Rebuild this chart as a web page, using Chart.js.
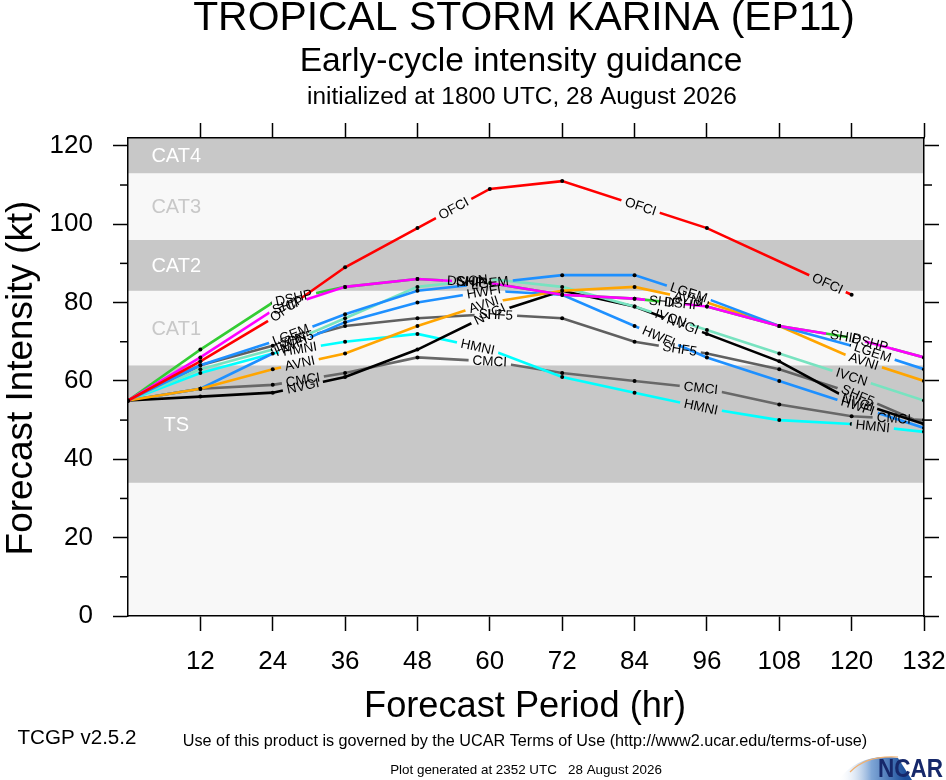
<!DOCTYPE html>
<html><head><meta charset="utf-8">
<script src="https://cdn.jsdelivr.net/npm/chart.js@4.4.1/dist/chart.umd.min.js"></script>
<style>html,body{margin:0;padding:0;background:#fff;} #wrap{width:946px;height:780px;position:relative;}</style>
</head><body><div id="wrap"><canvas id="c"></canvas></div>
<script>
// ---------- data ----------
const hours = [0,12,24,36,48,60,72,84,96,108,120,132];
const OFCI = [55,65,76,89,99,109,111,null,99,null,82,null];
const SHIP = [55,66,78,84,86,85,82,81,79,74,71,66];
const DSHP = [55,68,80,84,86,85,82,81,79,74,71,66];
const LGEM = [55,64,70,77,83,85,87,87,81,74,69,63];
const AVNI = [55,58,63,67,74,80,83,84,80,74,66,60];
const IVCN = [55,63,68,76,84,86,84,79,73,67,61,55];
const NVGI = [55,56,57,61,68,77,83,79,72,65,55,49];
const HWFI = [55,58,67,75,80,83,82,74,66,60,54,48];
const SHF5 = [55,64,69,74,76,77,76,70,67,63,57,49];
const HMNI = [55,62,67,70,72,68,61,57,53,50,49,47];
const CMCI = [55,58,59,62,66,65,62,60,58,54,51,50];
const seriesNames = ['OFCI','SHIP','DSHP','LGEM','AVNI','IVCN','NVGI','HWFI','SHF5','HMNI','CMCI'];
const seriesValues = {OFCI,SHIP,DSHP,LGEM,AVNI,IVCN,NVGI,HWFI,SHF5,HMNI,CMCI};
const bandLimits = [0,34,64,83,96,113,122];
const bandNames = ['', 'TS', 'CAT1', 'CAT2', 'CAT3', 'CAT4'];
const xTicks = [0,12,24,36,48,60,72,84,96,108,120,132];
const yTicks = [0,20,40,60,80,100,120];

// ---------- styles ----------
const seriesColors = {OFCI:'#ff0000',SHIP:'#ff00ff',DSHP:'#33cc33',LGEM:'#1e90ff',AVNI:'#ffa500',
  IVCN:'#78e3c0',NVGI:'#000000',HWFI:'#1e90ff',SHF5:'#606060',HMNI:'#00ffff',CMCI:'#686868'};
const labelHours = {OFCI:[26,54,85,116],SHIP:[26.5,57,89,119],DSHP:[27.5,56,92,123],LGEM:[27,60,93,123.5],
  AVNI:[28.5,59,93,122],IVCN:[27,57,90,120],NVGI:[29,60,92,121],HWFI:[27,59,88,121],SHF5:[28,61,91.5,121],
  HMNI:[28.5,58,95,123.5],CMCI:[29,60,95,127]};
const FAM = '"Liberation Sans", Arial, Helvetica, sans-serif';
const LABEL_FONT = '13.5px ' + FAM;
const GRAY = '#c8c8c8', LIGHT = '#f8f8f8';

function labelGeom(chart, idx, h){
  const pts = chart.data.datasets[idx].data;
  const xs = chart.scales.x, ys = chart.scales.y;
  for (let i=0;i<pts.length-1;i++){
    const a=pts[i], b=pts[i+1];
    if (h>=a.x && h<=b.x){
      const t=(h-a.x)/(b.x-a.x);
      const v=a.y+(b.y-a.y)*t;
      const ax=xs.getPixelForValue(a.x), ay=ys.getPixelForValue(a.y);
      const bx=xs.getPixelForValue(b.x), by=ys.getPixelForValue(b.y);
      return {px:xs.getPixelForValue(h), py:ys.getPixelForValue(v), ang:Math.atan2(by-ay,bx-ax)};
    }
  }
  return null;
}

function fitText(ctx, text, cx, cy, width, weight, rot){
  ctx.save();
  ctx.font = `${weight} 40px ${FAM}`;
  const w = ctx.measureText(text).width;
  const size = 40*width/w;
  ctx.font = `${weight} ${size}px ${FAM}`;
  ctx.textAlign='center'; ctx.textBaseline='middle'; ctx.fillStyle='#000';
  ctx.translate(cx,cy); if (rot) ctx.rotate(rot);
  ctx.fillText(text,0,0);
  ctx.restore();
}

const deco = {
  id:'deco',
  beforeDraw(chart){
    const ctx=chart.ctx, a=chart.chartArea, ys=chart.scales.y, xs=chart.scales.x;
    ctx.save();
    ctx.fillStyle='#fff'; ctx.fillRect(0,0,chart.width,chart.height);
    for (let i=0;i<bandLimits.length-1;i++){
      const y0=ys.getPixelForValue(bandLimits[i]), y1=ys.getPixelForValue(bandLimits[i+1]);
      ctx.fillStyle = (i%2===1)?GRAY:LIGHT;
      ctx.fillRect(a.left,y1,a.right-a.left,y0-y1);
      if (bandNames[i]){
        ctx.fillStyle = (i%2===1)?'#ffffff':GRAY;
        ctx.font = '20px '+FAM; ctx.textAlign='center'; ctx.textBaseline='middle';
        ctx.fillText(bandNames[i], xs.getPixelForValue(8), (y0+y1)/2+1);
      }
    }
    ctx.restore();
  },
  beforeDatasetDraw(chart,args){
    const ctx=chart.ctx; const ds=chart.data.datasets[args.index];
    ctx.save(); ctx.beginPath(); ctx.rect(0,0,chart.width,chart.height);
    ctx.font=LABEL_FONT;
    (labelHours[ds.label]||[]).forEach(h=>{
      const g=labelGeom(chart,args.index,h); if(!g) return;
      const w=ctx.measureText(ds.label).width/2+4, hh=6;
      const c=Math.cos(g.ang), s=Math.sin(g.ang);
      const pts=[[-w,-hh],[-w,hh],[w,hh],[w,-hh]].map(([u,v])=>[g.px+u*c-v*s, g.py+u*s+v*c]);
      ctx.moveTo(pts[0][0],pts[0][1]);
      for (let k=1;k<4;k++) ctx.lineTo(pts[k][0],pts[k][1]);
      ctx.closePath();
    });
    ctx.clip('evenodd');
  },
  afterDatasetDraw(chart){ chart.ctx.restore(); },
  afterDatasetsDraw(chart){
    const ctx=chart.ctx;
    ctx.save(); ctx.font=LABEL_FONT; ctx.fillStyle='#000'; ctx.textAlign='center'; ctx.textBaseline='middle';
    for (let i=chart.data.datasets.length-1;i>=0;i--){
      const ds=chart.data.datasets[i];
      (labelHours[ds.label]||[]).forEach(h=>{
        const g=labelGeom(chart,i,h); if(!g) return;
        ctx.save(); ctx.translate(g.px,g.py); ctx.rotate(g.ang); ctx.fillText(ds.label,0,0.5); ctx.restore();
      });
    }
    ctx.restore();
  },
  afterDraw(chart){
    const ctx=chart.ctx, a=chart.chartArea, ys=chart.scales.y;
    ctx.save();
    // minor ticks on left and right
    ctx.strokeStyle='#000'; ctx.lineWidth=1.5;
    for (let i=0;i<yTicks.length-1;i++){
      const y=ys.getPixelForValue((yTicks[i]+yTicks[i+1])/2);
      ctx.beginPath(); ctx.moveTo(a.left-8,y); ctx.lineTo(a.left,y); ctx.stroke();
      ctx.beginPath(); ctx.moveTo(a.right,y); ctx.lineTo(a.right+8,y); ctx.stroke();
    }
    // titles
    fitText(ctx,'TROPICAL STORM KARINA (EP11)',524,19,662,'normal');
    fitText(ctx,'Early-cycle intensity guidance',521,62,443,'normal');
    fitText(ctx,'initialized at 1800 UTC, 28 August 2026',522,97,430,'normal');
    fitText(ctx,'Forecast Intensity (kt)',22,378,355,'normal',-Math.PI/2);
    fitText(ctx,'Forecast Period (hr)',525,707,322,'normal');
    fitText(ctx,'TCGP v2.5.2',77,738,119,'normal');
    fitText(ctx,'Use of this product is governed by the UCAR Terms of Use (http://www2.ucar.edu/terms-of-use)',525,742,685,'normal');
    fitText(ctx,'Plot generated at 2352 UTC   28 August 2026',526,770,272,'normal');
    // NCAR logo
    const gr=ctx.createLinearGradient(838,0,905,0);
    gr.addColorStop(0,'rgba(255,255,255,0)'); gr.addColorStop(0.5,'#7fa6d6'); gr.addColorStop(1,'#1c4f9c');
    ctx.fillStyle=gr;
    ctx.beginPath(); ctx.moveTo(838,780); ctx.quadraticCurveTo(860,752,898,758); ctx.lineTo(912,780); ctx.closePath(); ctx.fill();
    ctx.strokeStyle='#f0b070'; ctx.lineWidth=1.2;
    ctx.beginPath(); ctx.moveTo(850,772); ctx.quadraticCurveTo(866,755,898,757); ctx.stroke();
    ctx.fillStyle='#16286a'; ctx.font='bold 25px '+FAM; ctx.textAlign='left'; ctx.textBaseline='alphabetic';
    const w=ctx.measureText('NCAR').width;
    ctx.save(); ctx.translate(878,777); ctx.scale(65/w,1); ctx.fillText('NCAR',0,0); ctx.restore();
    ctx.restore();
  }
};

const tickCol = c => (c.tick && c.tick.value===0) ? 'rgba(0,0,0,0)' : '#000';
const axisCommon = {border:{display:true,color:'#000',width:1.5}};
const noPad = s => { s.paddingLeft=0; s.paddingRight=0; s.paddingTop=0; s.paddingBottom=0; };

new Chart(document.getElementById('c'), {
  type:'line',
  data:{datasets: seriesNames.map(n=>({
    label:n,
    data: hours.map((h,i)=>({x:h,y:seriesValues[n][i]})).filter(p=>p.y!==null),
    borderColor:seriesColors[n], backgroundColor:seriesColors[n], borderWidth:2.6,
    pointRadius:2, pointBackgroundColor:'#000', pointBorderWidth:0, pointHoverRadius:0,
    tension:0, fill:false
  }))},
  options:{
    responsive:true, maintainAspectRatio:false, animation:false, events:[],
    layout:{padding:0},
    plugins:{legend:{display:false},tooltip:{enabled:false},title:{display:false}},
    scales:{
      x:{type:'linear',position:'bottom',min:0,max:132,
        afterBuildTicks:s=>{s.ticks=xTicks.map(v=>({value:v}));},
        afterFit:s=>{s.height=164; noPad(s);},
        ticks:{autoSkip:false,maxRotation:0,padding:15,color:'#000',font:{size:26,family:FAM},
          callback:v=>v===0?'':String(v)},
        grid:{drawOnChartArea:false,drawTicks:true,tickLength:15,tickWidth:1.5,tickColor:tickCol},
        ...axisCommon},
      x2:{type:'linear',position:'top',min:0,max:132,
        afterBuildTicks:s=>{s.ticks=xTicks.map(v=>({value:v}));},
        afterFit:s=>{s.height=138; noPad(s);},
        ticks:{autoSkip:false,maxRotation:0,callback:()=>''},
        grid:{drawOnChartArea:false,drawTicks:true,tickLength:15,tickWidth:1.5,tickColor:tickCol},
        ...axisCommon},
      y:{type:'linear',position:'left',min:0,max:bandLimits[bandLimits.length-1],
        afterBuildTicks:s=>{s.ticks=yTicks.map(v=>({value:v}));},
        afterFit:s=>{s.width=128; noPad(s);},
        ticks:{autoSkip:false,padding:20,color:'#000',font:{size:26,family:FAM},callback:v=>String(v)},
        grid:{drawOnChartArea:false,drawTicks:true,tickLength:15,tickWidth:1.5,tickColor:'#000'},
        ...axisCommon},
      y2:{type:'linear',position:'right',min:0,max:bandLimits[bandLimits.length-1],
        afterBuildTicks:s=>{s.ticks=yTicks.map(v=>({value:v}));},
        afterFit:s=>{s.width=22; noPad(s);},
        ticks:{autoSkip:false,padding:0,callback:()=>''},
        grid:{drawOnChartArea:false,drawTicks:true,tickLength:15,tickWidth:1.5,tickColor:'#000'},
        ...axisCommon}
    }
  },
  plugins:[deco]
});
</script></body></html>
